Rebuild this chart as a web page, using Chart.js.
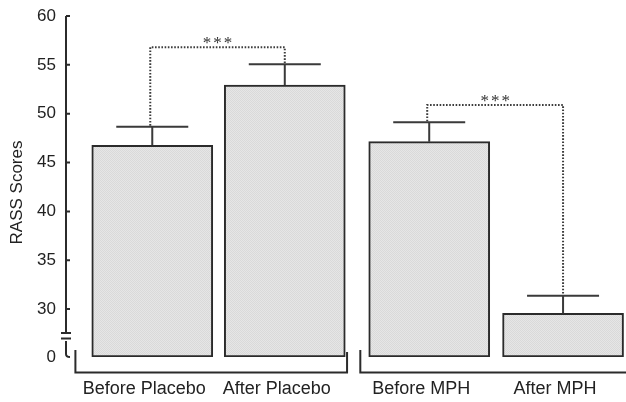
<!DOCTYPE html>
<html>
<head>
<meta charset="utf-8">
<script src="https://cdn.jsdelivr.net/npm/chart.js@4.4.0/dist/chart.umd.min.js"></script>
<style>
  html, body { margin: 0; padding: 0; background: #fff; }
</style>
</head>
<body>
<canvas id="chart" width="626" height="402"></canvas>
<script>
// data
const labels = ['Before Placebo', 'After Placebo', 'Before MPH', 'After MPH'];
const xPositions = [1, 2, 3.09, 4.1];
const means = [46.77, 52.94, 47.14, 29.56];
const sems = [1.9, 2.12, 1.98, 1.8];
const yTicks = [0, 30, 35, 40, 45, 50, 55, 60];
const axisBreakBase = 25.1; // value where the "0" sits below the axis break
const sigPairs = [[0, 1], [2, 3]];
const sigLevels = [56.8, 50.9];
const sigLabels = ['***', '***'];
const groupSpans = [[0.42, 2.47], [2.57, 4.7]];

const ink = '#2b2b2b';
const font = '"Liberation Sans", Arial, Helvetica, sans-serif';

// light stippled grey fill like the print
const pat = document.createElement('canvas');
pat.width = 2; pat.height = 2;
const pctx = pat.getContext('2d');
pctx.fillStyle = '#e6e6e6'; pctx.fillRect(0, 0, 2, 2);
pctx.fillStyle = '#d9d9d9'; pctx.fillRect(0, 0, 1, 1); pctx.fillRect(1, 1, 1, 1);
const barFill = document.getElementById('chart').getContext('2d').createPattern(pat, 'repeat');

const decorations = {
  id: 'decorations',
  afterDatasetsDraw(chart) {
    const ctx = chart.ctx;
    const area = chart.chartArea;
    const xs = chart.scales.x, ys = chart.scales.y;
    const bars = chart.getDatasetMeta(0).data;
    const axisX = area.left;
    const p30 = ys.getPixelForValue(30);
    const p0 = ys.getPixelForValue(axisBreakBase);
    const mid = p30 + (p0 - p30) * 0.5;

    ctx.save();
    ctx.strokeStyle = ink;
    ctx.lineWidth = 2;
    ctx.lineCap = 'butt';

    // y axis with break
    ctx.beginPath();
    ctx.moveTo(axisX, area.top);
    ctx.lineTo(axisX, mid - 1);
    ctx.stroke();
    ctx.beginPath();
    ctx.moveTo(axisX - 5, mid); ctx.lineTo(axisX + 5, mid);
    ctx.moveTo(axisX - 5, mid + 5.5); ctx.lineTo(axisX + 5, mid + 5.5);
    ctx.stroke();
    ctx.beginPath();
    ctx.moveTo(axisX, mid + 8);
    ctx.lineTo(axisX, p0 - 3);
    ctx.quadraticCurveTo(axisX, p0, axisX + 4, p0);
    ctx.stroke();

    // inward tick marks
    ctx.beginPath();
    yTicks.filter(v => v > 0).forEach(v => {
      const y = ys.getPixelForValue(v);
      ctx.moveTo(axisX, y); ctx.lineTo(axisX + 4, y);
    });
    ctx.stroke();

    // group brackets under the bars
    groupSpans.forEach(([a, b]) => {
      const x1 = xs.getPixelForValue(a), x2 = xs.getPixelForValue(b);
      const yb = area.bottom + 15.5;
      ctx.beginPath();
      ctx.moveTo(x1, area.bottom - 7);
      ctx.lineTo(x1, yb);
      ctx.lineTo(x2, yb);
      ctx.lineTo(x2, area.bottom - 5);
      ctx.stroke();
    });

    // error bars
    ctx.strokeStyle = '#3a3a3a';
    bars.forEach((bar, i) => {
      const yTop = ys.getPixelForValue(means[i] + sems[i]);
      ctx.beginPath();
      ctx.moveTo(bar.x, ys.getPixelForValue(means[i]));
      ctx.lineTo(bar.x, yTop);
      ctx.moveTo(bar.x - 36, yTop);
      ctx.lineTo(bar.x + 36, yTop);
      ctx.stroke();
    });

    // significance brackets
    ctx.strokeStyle = '#3c3c3c';
    ctx.setLineDash([1.6, 1.6]);
    sigPairs.forEach(([a, b], i) => {
      const ya = ys.getPixelForValue(means[a] + sems[a]);
      const yb = ys.getPixelForValue(means[b] + sems[b]);
      const yl = ys.getPixelForValue(sigLevels[i]);
      const xa = bars[a].x - 2, xb = bars[b].x;
      ctx.beginPath();
      ctx.moveTo(xa, ya - 1);
      ctx.lineTo(xa, yl);
      ctx.lineTo(xb, yl);
      ctx.lineTo(xb, yb - 1);
      ctx.stroke();
      ctx.fillStyle = '#333';
      ctx.font = '17px "Liberation Serif", "Times New Roman", serif';
      ctx.textAlign = 'center';
      ctx.textBaseline = 'alphabetic';
      if ('letterSpacing' in ctx) ctx.letterSpacing = '2px';
      ctx.fillText(sigLabels[i], (xa + xb) / 2 + 1, yl + 1);
      if ('letterSpacing' in ctx) ctx.letterSpacing = '0px';
    });
    ctx.setLineDash([]);

    // y axis title
    ctx.fillStyle = '#222';
    ctx.font = '17px ' + font;
    ctx.textAlign = 'center';
    ctx.textBaseline = 'middle';
    ctx.translate(17, (area.top + area.bottom) / 2 + 6);
    ctx.rotate(-Math.PI / 2);
    ctx.fillText('RASS Scores', 0, 0);
    ctx.restore();
  }
};

new Chart(document.getElementById('chart'), {
  type: 'bar',
  data: {
    datasets: [{
      // bars start at the broken-axis "0"
      data: means.map((m, i) => ({ x: xPositions[i], y: [axisBreakBase, m] })),
      backgroundColor: barFill,
      borderColor: ink,
      borderWidth: 2,
      borderSkipped: false,
      barThickness: 121
    }]
  },
  options: {
    responsive: false,
    animation: false,
    devicePixelRatio: 1,
    layout: { padding: { top: 16, right: 0, bottom: 3, left: 0 } },
    plugins: { legend: { display: false }, tooltip: { enabled: false } },
    scales: {
      x: {
        type: 'linear',
        offset: false,
        min: 0.349,
        max: 4.575,
        grid: { display: false, drawTicks: false, offset: false },
        border: { display: false },
        afterBuildTicks: s => { s.ticks = xPositions.map(v => ({ value: v })); },
        afterFit: s => { s.height = 42; s.paddingLeft = 0; s.paddingRight = 0; },
        ticks: {
          autoSkip: false,
          maxRotation: 0,
          minRotation: 0,
          padding: 21,
          labelOffset: -8,
          color: '#222',
          font: { family: font, size: 18 },
          callback: v => labels[xPositions.indexOf(v)]
        }
      },
      y: {
        min: axisBreakBase,
        max: 60,
        grid: { display: false, drawTicks: false },
        border: { display: false },
        afterBuildTicks: s => { s.ticks = yTicks.map(v => ({ value: v === 0 ? axisBreakBase : v })); },
        afterFit: s => { s.width = 66; s.paddingTop = 0; s.paddingBottom = 0; },
        ticks: {
          padding: 10,
          color: '#222',
          font: { family: font, size: 17 },
          callback: v => (v <= axisBreakBase + 0.01 ? '0' : v)
        }
      }
    }
  },
  plugins: [decorations]
});
</script>
</body>
</html>
